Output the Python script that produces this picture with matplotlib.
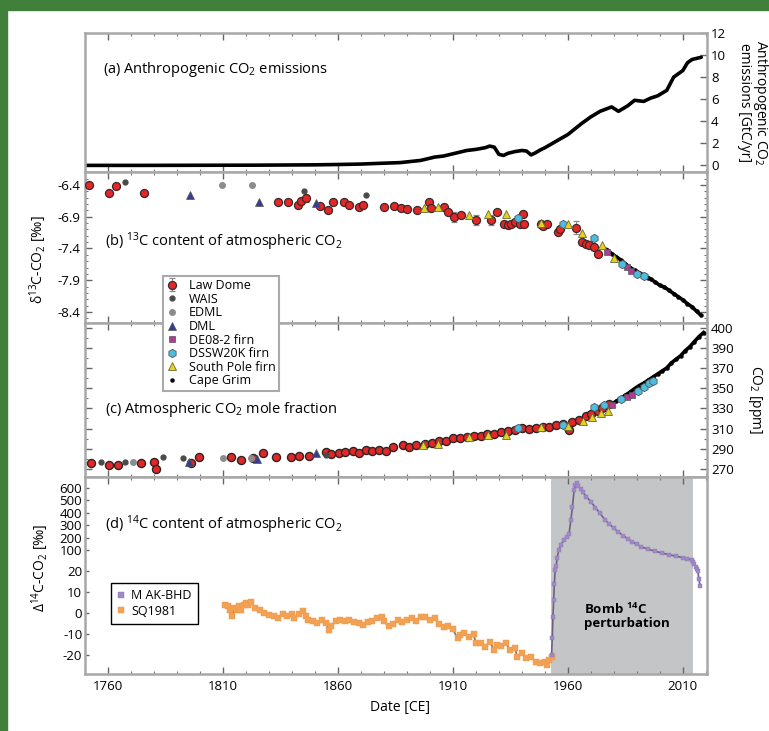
import numpy as np
import matplotlib
matplotlib.use("Agg")
import matplotlib.pyplot as plt
from matplotlib.patches import Rectangle
from matplotlib.ticker import MultipleLocator, FixedLocator, FixedFormatter
import matplotlib.transforms as mtransforms

plt.rcParams['font.family'] = ['Open Sans', 'DejaVu Sans']
plt.rcParams['mathtext.fontset'] = 'custom'
plt.rcParams['mathtext.rm'] = 'Open Sans'
plt.rcParams['mathtext.it'] = 'Open Sans:italic'
plt.rcParams['mathtext.bf'] = 'Open Sans:bold'

# ---------------- data ----------------
# (a) anthropogenic emissions, GtC/yr
em_year = [1750, 1775, 1800, 1825, 1850, 1860, 1870, 1880, 1887, 1896, 1902, 1906, 1910, 1913, 1916, 1920, 1924, 1926,
           1928, 1930, 1932, 1934, 1937, 1940, 1942, 1944, 1946, 1948, 1950, 1955, 1960, 1966, 1970, 1974, 1979, 1982,
           1986, 1989, 1993, 1996, 1999, 2003, 2006, 2008, 2010, 2012, 2014, 2016, 2018]
em_val = [0.0, 0.0, 0.01, 0.02, 0.05, 0.08, 0.12, 0.2, 0.25, 0.45, 0.75, 0.85, 1.05, 1.2, 1.35, 1.45, 1.6, 1.75,
          1.65, 1.0, 0.9, 1.1, 1.25, 1.35, 1.3, 0.95, 1.15, 1.4, 1.6, 2.2, 2.8, 3.8, 4.4, 4.9, 5.3, 4.9,
          5.4, 5.9, 5.8, 6.1, 6.3, 6.8, 8.0, 8.3, 8.6, 9.3, 9.6, 9.7, 9.8]

# (b) d13C
ld_b_year = [1751.9, 1760.6, 1763.5, 1775.5, 1833.8, 1838.1, 1842.5, 1843.9, 1846.1, 1852.3, 1855.5, 1857.7, 1862.8, 1864.9,
             1869.3, 1870.7, 1880.1, 1884.5, 1887.4, 1890.1, 1894.6, 1899.7, 1900.4, 1906.2, 1907.7, 1910.6, 1913.5, 1920.0,
             1926.5, 1929.1, 1932.3, 1934.0, 1935.2, 1937.0, 1939.0, 1940.3, 1940.9, 1948.3, 1949.0, 1950.9, 1955.8, 1956.5,
             1963.5, 1966.0, 1968.0, 1969.3, 1971.4, 1972.9]
ld_b_val = [-6.40, -6.52, -6.41, -6.52, -6.67, -6.66, -6.72, -6.65, -6.61, -6.73, -6.80, -6.66, -6.66, -6.72,
            -6.74, -6.71, -6.74, -6.73, -6.77, -6.78, -6.79, -6.66, -6.77, -6.74, -6.82, -6.90, -6.87, -6.95,
            -6.95, -6.82, -7.01, -7.03, -7.01, -6.98, -7.02, -6.85, -7.01, -7.02, -7.05, -7.01, -7.14, -7.10,
            -7.07, -7.30, -7.33, -7.35, -7.37, -7.49]
ld_b_err = [0.03, 0.03, 0.03, 0.03, 0.03, 0.03, 0.04, 0.05, 0.06, 0.03, 0.03, 0.03, 0.03, 0.03,
            0.03, 0.03, 0.03, 0.03, 0.03, 0.03, 0.03, 0.03, 0.03, 0.03, 0.04, 0.08, 0.03, 0.08,
            0.08, 0.03, 0.05, 0.03, 0.03, 0.03, 0.03, 0.03, 0.03, 0.06, 0.03, 0.03, 0.03, 0.03,
            0.10, 0.03, 0.03, 0.03, 0.03, 0.03]
wais_b_year = [1767.4, 1845.4, 1872.2]
wais_b_val = [-6.35, -6.49, -6.55]
edml_b_year = [1809.6, 1822.5]
edml_b_val = [-6.40, -6.40]
dml_b_year = [1795.7, 1825.8, 1850.4]
dml_b_val = [-6.56, -6.66, -6.69]
de08_b_year = [1977.2, 1985.9, 1987.4]
de08_b_val = [-7.45, -7.69, -7.76]
dssw_b_year = [1938.4, 1957.7, 1971.4, 1983.7, 1990.0, 1992.9]
dssw_b_val = [-6.92, -7.02, -7.23, -7.65, -7.80, -7.83]
sp_b_year = [1897.5, 1903.3, 1917.1, 1925.1, 1933.0, 1948.3, 1960.0, 1966.0, 1975.0, 1980.1]
sp_b_val = [-6.77, -6.74, -6.87, -6.85, -6.85, -7.00, -7.02, -7.16, -7.35, -7.55]
cg_b_year = [1977, 1979, 1981, 1983, 1985, 1987, 1989, 1991, 1993, 1995, 1996, 1998, 2000, 2002, 2004, 2006, 2008, 2010,
             2012, 2014, 2016, 2017.8]
cg_b_val = [-7.42, -7.48, -7.53, -7.58, -7.64, -7.70, -7.74, -7.78, -7.82, -7.86, -7.88, -7.93, -7.98, -8.01, -8.06, -8.11,
            -8.16, -8.21, -8.27, -8.32, -8.39, -8.45]

# (c) CO2 ppm
ld_c_year = [1752.6, 1760.6, 1764.2, 1774.3, 1780.1, 1780.9, 1796.2, 1799.7, 1813.5, 1817.8, 1822.9, 1827.2, 1833.0, 1839.5,
             1843.2, 1847.5, 1854.8, 1857.0, 1860.6, 1863.0, 1866.4, 1869.0, 1872.2, 1875.0, 1878.0, 1880.8, 1883.8, 1888.1,
             1891.0, 1894.0, 1898.0, 1901.0, 1904.0, 1907.0, 1910.0, 1913.0, 1916.0, 1919.0, 1922.0, 1925.0, 1928.0, 1931.0,
             1934.0, 1937.0, 1940.0, 1943.0, 1946.0, 1949.0, 1952.0, 1955.0, 1958.0, 1960.6, 1962.0, 1965.0, 1968.0, 1970.0,
             1973.0, 1975.0, 1978.0]
ld_c_val = [275.6, 274.0, 274.0, 275.6, 277.2, 269.7, 275.6, 282.2, 282.2, 279.0, 280.6, 285.5, 282.2, 281.6,
            282.8, 283.0, 286.5, 285.0, 285.9, 286.5, 287.5, 286.0, 288.4, 288.0, 289.0, 287.5, 292.0, 293.6,
            292.0, 294.0, 295.0, 296.0, 297.5, 298.0, 300.5, 301.0, 301.5, 303.0, 302.5, 305.0, 305.0, 307.0,
            307.5, 309.0, 310.5, 310.0, 311.0, 311.5, 312.0, 313.5, 314.0, 308.5, 316.5, 318.0, 322.0, 324.0,
            327.0, 330.0, 334.0]
wais_c_year = [1757.0, 1767.6, 1783.8, 1792.5, 1855.0]
wais_c_val = [277.2, 277.2, 282.2, 280.6, 284.0]
edml_c_year = [1770.7, 1809.9, 1822.0]
edml_c_val = [277.0, 280.6, 281.0]
dml_c_year = [1795.4, 1825.0, 1850.4]
dml_c_val = [277.2, 279.6, 285.6]
de08_c_year = [1979.4, 1985.9, 1988.1]
de08_c_val = [333.4, 341.0, 343.3]
dssw_c_year = [1938.1, 1957.7, 1971.4, 1975.8, 1983.0, 1990.3, 1993.2, 1995.4, 1997.2]
dssw_c_val = [310.3, 313.6, 331.0, 333.4, 339.3, 347.5, 351.5, 354.8, 357.4]
sp_c_year = [1896.8, 1903.3, 1917.1, 1925.1, 1933.0, 1948.3, 1959.9, 1966.4, 1970.7, 1974.3, 1977.3]
sp_c_val = [293.8, 294.8, 301.4, 303.7, 303.7, 311.3, 312.6, 317.8, 321.2, 325.1, 327.7]
cg_c_year = [1977, 1979, 1981, 1983, 1985, 1987, 1989, 1991, 1993, 1995, 1997, 1999, 2001, 2003, 2005, 2007, 2009, 2011,
             2013, 2015, 2017, 2019]
cg_c_val = [331, 334, 337, 340, 343, 346, 349.5, 352.5, 355, 358, 361, 364, 367, 370, 375, 378.5, 382, 387,
            391, 396, 401, 405]
co2_tick_val = [270, 290, 310, 330, 350, 370, 390, 410]
co2_tick_lab = ['270', '290', '310', '330', '350', '370', '390', '400']

# (d) D14C
sq_year = [1811, 1812, 1813, 1814, 1815, 1816, 1817, 1818, 1819, 1820, 1821, 1822, 1824, 1826, 1828, 1830, 1832, 1834,
           1836, 1838, 1840, 1841, 1843, 1845, 1846, 1847, 1849, 1851, 1853, 1855, 1856, 1857, 1859, 1861, 1863, 1865,
           1867, 1869, 1871, 1873, 1875, 1877, 1879, 1880, 1882, 1884, 1886, 1888, 1890, 1892, 1894, 1896, 1898, 1900,
           1902, 1904, 1906, 1908, 1910, 1912, 1913, 1915, 1917, 1919, 1920, 1922, 1924, 1926, 1928, 1929, 1931, 1933,
           1935, 1937, 1938, 1940, 1942, 1944, 1946, 1948, 1950, 1951, 1952, 1953]
sq_val = [4.0, 3.2, 1.6, -1.6, 2.4, 1.6, 3.2, 1.6, 4.0, 4.8, 4.0, 5.1, 2.4, 1.6, 0.0, -0.8, -1.6, -2.4,
          -0.3, -1.6, -0.3, -2.4, -0.3, 0.8, -1.6, -3.2, -4.0, -4.8, -3.2, -4.8, -7.9, -6.3, -4.0, -3.2, -4.0, -3.5,
          -4.4, -4.8, -5.6, -4.4, -4.0, -2.4, -1.9, -4.0, -6.3, -5.1, -3.2, -4.1, -3.3, -2.5, -3.6, -1.7, -2.1, -3.3,
          -2.5, -5.2, -6.5, -6.2, -7.8, -12.0, -10.5, -9.7, -11.3, -10.0, -14.4, -14.1, -16.0, -13.6, -17.6, -15.2, -15.7, -14.4,
          -17.6, -16.8, -20.8, -19.2, -21.6, -20.8, -23.2, -24.0, -23.2, -24.8, -22.4, -20.8]
bhd_year = [1952.9, 1953.2, 1953.5, 1953.8, 1954.1, 1954.5, 1954.9, 1955.4, 1956.0, 1957.0, 1958.2, 1959.5, 1960.5, 1961.3,
            1962.0, 1962.7, 1963.3, 1963.8, 1964.5, 1965.5, 1966.5, 1968.0, 1970.0, 1972.0, 1974.0, 1976.0, 1978.0, 1980.0,
            1982.0, 1984.0, 1986.0, 1988.0, 1990.0, 1992.0, 1995.0, 1998.0, 2001.0, 2004.0, 2007.0, 2010.0, 2012.0, 2014.0,
            2014.5, 2015.0, 2015.5, 2016.0, 2016.5, 2017.0, 2017.5]
bhd_val = [-20, -12, -2, 6, 14, 25, 40, 70, 100, 140, 180, 205, 230, 340,
           450, 580, 620, 640, 615, 590, 565, 530, 490, 440, 395, 345, 310, 275,
           245, 215, 190, 165, 145, 125, 105, 95, 88, 82, 76, 71, 67, 62,
           55, 45, 35, 26, 20, 16, 13]
bomb_span = (1952.6, 2014.6)
d14_ticks = [-20, -10, 0, 10, 20, 100, 200, 300, 400, 500, 600]

# ---------------- figure ----------------
W, H = 769, 731
fig = plt.figure(figsize=(W / 100, H / 100), dpi=100)
fig.patches.append(Rectangle((0, 1 - 10 / H), 1, 10 / H, transform=fig.transFigure, color='#41803a', zorder=0))
fig.patches.append(Rectangle((0, 0), 7 / W, 1, transform=fig.transFigure, color='#41803a', zorder=0))


def add_panel(top, bottom):
    return fig.add_axes([85 / W, (H - bottom) / H, 622 / W, (bottom - top) / H])


ax_a = add_panel(33, 172)
ax_b = add_panel(172, 323)
ax_c = add_panel(323, 477)
ax_d = add_panel(477, 674)

for ax in (ax_a, ax_b, ax_c, ax_d):
    ax.set_xlim(1750, 2020.5)
    for s in ax.spines.values():
        s.set_color('#a8a8a8')
        s.set_linewidth(1.8)
    ax.xaxis.set_major_locator(MultipleLocator(50, offset=10))
    ax.xaxis.set_minor_locator(MultipleLocator(10))
    ax.tick_params(axis='both', which='major', direction='in', length=5, width=1, color='#666666', labelsize=9.5)
    ax.tick_params(axis='both', which='minor', direction='in', length=2.5, width=0.8, color='#777777')
    ax.tick_params(axis='x', which='both', top=True, bottom=True, labelbottom=False)

# (a)
ax_a.plot(em_year, em_val, color='black', lw=2.6, solid_capstyle='round', solid_joinstyle='round')
ax_a.set_ylim(-0.6, 12)
ax_a.yaxis.set_major_locator(MultipleLocator(2))
ax_a.tick_params(axis='y', left=False, right=True, labelleft=False, labelright=True, pad=3)
ax_a.text(0.029, 0.734, '(a) Anthropogenic CO$_2$ emissions', transform=ax_a.transAxes, fontsize=10.5, va='center')
ax_a.text(1.075, 0.5, 'Anthropogenic CO$_2$\nemissions [GtC/yr]', transform=ax_a.transAxes, fontsize=10,
          rotation=270, ha='center', va='center', linespacing=0.95)

# (b)
mk = dict(linestyle='none')
ax_b.plot(cg_b_year, cg_b_val, color='black', lw=2.6, zorder=2)
h_cg, = ax_b.plot(cg_b_year, cg_b_val, marker='o', ms=2.2, color='black', zorder=2, **mk)
h_ld = ax_b.errorbar(ld_b_year, ld_b_val, yerr=ld_b_err, fmt='o', ms=5.8, mfc='#e42626', mec='#3a2a2a', mew=0.9,
                     ecolor='#8a8a8a', elinewidth=0.8, capsize=2, zorder=3)
h_wais, = ax_b.plot(wais_b_year, wais_b_val, marker='o', ms=3.5, color='#4a4a4a', zorder=3, **mk)
h_edml, = ax_b.plot(edml_b_year, edml_b_val, marker='o', ms=4, color='#8c8c8c', zorder=3, **mk)
h_dml, = ax_b.plot(dml_b_year, dml_b_val, marker='^', ms=5.5, color='#343d92', mec='#555', mew=0.5, zorder=4, **mk)
h_de08, = ax_b.plot(de08_b_year, de08_b_val, marker='s', ms=5, color='#b03a9a', mec='#555', mew=0.5, zorder=4, **mk)
h_dssw, = ax_b.plot(dssw_b_year, dssw_b_val, marker='h', ms=6, color='#4cbde0', mec='#555', mew=0.6, zorder=4, **mk)
h_sp, = ax_b.plot(sp_b_year, sp_b_val, marker='^', ms=6, color='#e2d21e', mec='#6a6a3a', mew=0.6, zorder=4, **mk)
ax_b.set_ylim(-8.574, -6.195)
ax_b.yaxis.set_major_locator(FixedLocator([-6.4, -6.9, -7.4, -7.9, -8.4]))
ax_b.yaxis.set_major_formatter(FixedFormatter(['-6.4', '-6.9', '-7.4', '-7.9', '-8.4']))
ax_b.yaxis.set_minor_locator(MultipleLocator(0.1))
ax_b.tick_params(axis='y', which='both', left=True, right=True, labelleft=True, labelright=False)
ax_b.text(0.032, 0.536, '(b) $^{13}$C content of atmospheric CO$_2$', transform=ax_b.transAxes, fontsize=10.5,
          va='center')
ax_b.text(-0.0756, 0.42, 'δ$^{13}$C-CO$_2$ [‰]', transform=ax_b.transAxes, fontsize=10, rotation=90,
          ha='center', va='center')

# (c)
ax_c.plot(cg_c_year, cg_c_val, color='black', lw=2.6, zorder=2)
ax_c.plot(cg_c_year, cg_c_val, marker='o', ms=2.2, color='black', zorder=2, **mk)
ax_c.plot(ld_c_year, ld_c_val, marker='o', ms=5.8, mfc='#e42626', mec='#2e2424', mew=1.0, zorder=3, **mk)
ax_c.plot(wais_c_year, wais_c_val, marker='o', ms=3.5, color='#4a4a4a', zorder=3, **mk)
ax_c.plot(edml_c_year, edml_c_val, marker='o', ms=4, color='#8c8c8c', zorder=3, **mk)
ax_c.plot(dml_c_year, dml_c_val, marker='^', ms=5.5, color='#343d92', mec='#555', mew=0.5, zorder=4, **mk)
ax_c.plot(de08_c_year, de08_c_val, marker='s', ms=5, color='#b03a9a', mec='#555', mew=0.5, zorder=4, **mk)
ax_c.plot(dssw_c_year, dssw_c_val, marker='h', ms=6, color='#4cbde0', mec='#555', mew=0.6, zorder=4, **mk)
ax_c.plot(sp_c_year, sp_c_val, marker='^', ms=6, color='#e2d21e', mec='#6a6a3a', mew=0.6, zorder=4, **mk)
ax_c.set_ylim(262, 414.5)
ax_c.yaxis.set_major_locator(FixedLocator(co2_tick_val))
ax_c.yaxis.set_major_formatter(FixedFormatter(co2_tick_lab))
ax_c.yaxis.set_minor_locator(MultipleLocator(10))
ax_c.tick_params(axis='y', which='both', left=True, right=True, labelleft=False, labelright=True, pad=3)
ax_c.text(0.032, 0.44, '(c) Atmospheric CO$_2$ mole fraction', transform=ax_c.transAxes, fontsize=10.5, va='center')
ax_c.text(1.077, 0.5, 'CO$_2$ [ppm]', transform=ax_c.transAxes, fontsize=10, rotation=270, ha='center', va='center')

fig.legend([h_ld, h_wais, h_edml, h_dml, h_de08, h_dssw, h_sp, h_cg],
           ['Law Dome', 'WAIS', 'EDML', 'DML', 'DE08-2 firn', 'DSSW20K firn', 'South Pole firn', 'Cape Grim'],
           loc='upper left', bbox_to_anchor=(163 / W, 1 - 276 / H), fontsize=9, frameon=True, fancybox=False,
           edgecolor='#aaaaaa', framealpha=1, borderpad=0.25, labelspacing=0.05, handlelength=1.0,
           handletextpad=0.8, borderaxespad=0)
fig.legends[0].get_frame().set_linewidth(1.5)

# (d)
fwd_x = [-1000, 20, 100, 2000]
fwd_t = [-1000, 20, 30, 30 + 1900 * 0.059]
ax_d.set_yscale('function', functions=(lambda v: np.interp(v, fwd_x, fwd_t),
                                       lambda t: np.interp(t, fwd_t, fwd_x)))
ax_d.axvspan(*bomb_span, color='#c4c5c7', lw=0, zorder=0)
ax_d.plot(sq_year, sq_val, color='#7a7a7a', lw=1.3, zorder=2)
h_sq, = ax_d.plot(sq_year, sq_val, linestyle='none', marker='s', ms=4.2, mfc='#f2a155', mec='#ee9848', mew=0.3,
                  zorder=3)
ax_d.plot(bhd_year, bhd_val, color='#6e6080', lw=1.2, zorder=2)
h_bhd, = ax_d.plot(bhd_year, bhd_val, linestyle='none', marker='s', ms=3.4, mfc='#9f89c6', mec='#8f79b8', mew=0.3,
                   zorder=3)
ax_d.set_ylim(-29, 688)
ax_d.yaxis.set_major_locator(FixedLocator(d14_ticks))
ax_d.yaxis.set_major_formatter(FixedFormatter([str(v) for v in d14_ticks]))
ax_d.yaxis.set_minor_locator(FixedLocator([]))
ax_d.tick_params(axis='y', left=True, right=False, labelleft=True, length=3, pad=2)
ax_d.tick_params(axis='x', labelbottom=True, pad=4)
ax_d.text(0.032, 0.756, '(d) $^{14}$C content of atmospheric CO$_2$', transform=ax_d.transAxes, fontsize=10.5,
          va='center')
ax_d.text(-0.072, 0.538, 'Δ$^{14}$C-CO$_2$ [‰]', transform=ax_d.transAxes, fontsize=10, rotation=90,
          ha='center', va='center')
trans = mtransforms.blended_transform_factory(ax_d.transData, ax_d.transAxes)
ax_d.text(1966.8, 0.365, 'Bomb $\\mathbf{^{14}}$C\nperturbation', transform=trans, fontsize=9.5,
          fontweight='bold', va='top', ha='left', linespacing=0.95)
leg_d = ax_d.legend([h_bhd, h_sq], ['M AK-BHD', 'SQ1981'], loc='upper left',
                    bbox_to_anchor=(111 / W, 1 - 583 / H), bbox_transform=fig.transFigure, fontsize=9,
                    frameon=True, fancybox=False, edgecolor='black', framealpha=1, handlelength=0.6,
                    handletextpad=0.5, borderpad=0.5, labelspacing=0.2, borderaxespad=0)
for h in leg_d.legend_handles:
    h.set_markersize(4)

fig.text(400 / W, 1 - 707 / H, 'Date [CE]', fontsize=10, ha='center', va='center')

fig.savefig('out.png', dpi=100)
